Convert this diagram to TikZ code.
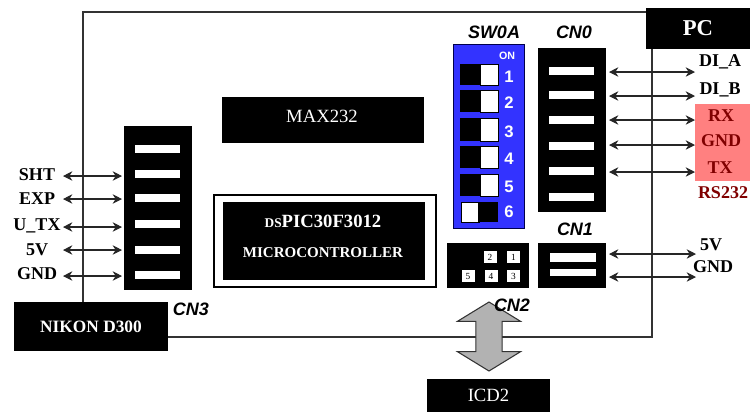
\documentclass[tikz,border=0pt]{standalone}
\usepackage{fontspec}
\setmainfont{Liberation Serif}
\setsansfont{Liberation Sans}
\usetikzlibrary{shapes.arrows, arrows.meta}
\definecolor{swblue}{RGB}{51,51,255}

\begin{document}
\begin{tikzpicture}[
            x=0.75pt, y=-0.75pt,
            size/.style n args={2}{minimum width=#1*0.75pt, minimum height=#2*0.75pt, inner sep=0pt, outer sep=0pt},
            block/.style={fill=black, text=white, align=center},
            slot/.style={fill=white, size={45}{8}},
            pad/.style={fill=white, text=black, size={13}{12}, font=\fontsize{7}{8}\selectfont},
            caption/.style={font=\fontsize{13.5}{15}\selectfont\sffamily\bfseries\itshape},
            pin/.style={font=\fontsize{13.5}{15}\selectfont\bfseries},
            swnum/.style={text=white, font=\fontsize{12.5}{14}\selectfont\sffamily\bfseries},
            link/.style={{Stealth[length=7pt,width=7pt]}-{Stealth[length=7pt,width=7pt]}, black!85, line width=0.8pt}
        ]
        \useasboundingbox (0,0) rectangle (750,412);

        % Board outline
        \node[draw=black!80, line width=0.8pt, size={569}{325}] (board) at (367.5,174.5) {};

        % Outside blocks
        \node[block, size={104}{41}, font=\fontsize{17}{19}\selectfont\bfseries] (pc) at (698,28.5) {PC};
        \node[block, size={154}{49}, font=\fontsize{13}{15}\selectfont\bfseries] (nikon) at (91,326.5) {NIKON D300};
        \node[block, size={123}{33}, font=\fontsize{14}{16}\selectfont] (icd) at (488.5,395.5) {ICD2};

        % MAX232 and microcontroller
        \node[block, size={202}{46}] (max) at (323,120) {};
        \node[text=white, inner sep=0pt, font=\fontsize{14}{16}\selectfont] (maxname) at (322,116) {MAX232};
        \node[draw=black, line width=1.8pt, size={222}{92}] (mcuframe) at (325,241) {};
        \node[block, size={202}{78}] (mcu) at (324,241) {};
        \node[text=white, inner sep=0pt, font=\fontsize{14}{16}\selectfont\bfseries] (mcuname) at (323,221) {{\fontsize{10}{12}\selectfont DS}PIC30F3012};
        \node[text=white, inner sep=0pt, font=\fontsize{11.25}{13}\selectfont\bfseries] (mcutype) at (323,253) {MICROCONTROLLER};

        % DIP switch
        \node[fill=swblue, draw=black!70!blue, line width=0.6pt, size={71}{184}] (sw) at (488.5,136) {};
        \node[caption] (swname) at (494,32) {SW0A};
        \node[text=white, inner sep=0pt, font=\fontsize{8}{9}\selectfont\sffamily\bfseries] (swon) at (507,56) {ON};
        \foreach \i/\y/\h in {1/74.5/21, 2/101/22, 3/129.5/23, 4/157/22, 5/185/22}
            {
            \node[fill=white, draw=black, line width=0.6pt, size={18}{\h}] (swR\i) at (489,\y) {};
            \node[fill=black, size={20}{\h}] (swL\i) at (470,\y) {};
            \node[swnum] (swN\i) at (509,\y+2) {\i};
            }
        \node[fill=white, draw=black, line width=0.6pt, size={18}{20}] (swL6) at (470,212) {};
        \node[fill=black, size={20}{20}] (swR6) at (488,212) {};
        \node[swnum] (swN6) at (509,212) {6};

        % CN0
        \node[block, size={68}{164}] (cn0) at (572,130) {};
        \node[caption] (cn0name) at (574,32) {CN0};
        \foreach \i/\y in {1/71, 2/95, 3/120, 4/146, 5/171, 6/197}
            \node[slot] (cn0s\i) at (571,\y) {};

        % CN1
        \node[block, size={68}{45}] (cn1) at (572,265.5) {};
        \node[caption] (cn1name) at (575,229) {CN1};
        \node[fill=white, size={46}{9}] (cn1s1) at (573,257) {};
        \node[fill=white, size={46}{7}] (cn1s2) at (573,272.5) {};

        % CN2
        \node[block, size={82}{45}] (cn2) at (488,265.5) {};
        \foreach \n/\x/\y in {1/513.5/257, 2/490/257, 3/513.5/276, 4/491/276, 5/468/276}
            \node[pad] (cn2p\n) at (\x,\y) {\n};

        % CN3
        \node[block, size={68}{164}] (cn3) at (158,208) {};
        \node[caption] (cn3name) at (191,309) {CN3};
        \foreach \i/\y in {1/149, 2/174, 3/198, 4/224, 5/250, 6/275}
            \node[slot] (cn3s\i) at (157,\y) {};

        % ICD2 arrow
        \node[double arrow, draw=black!80, line width=0.8pt, fill=black!30, rotate=90,
              minimum height=69*0.75pt, inner xsep=0pt, inner ysep=9.4pt, outer sep=0pt,
              double arrow head extend=18.5*0.75pt, double arrow head indent=0pt,
              double arrow tip angle=117] (icdarrow) at (489,336.5) {};
        \node[caption] (cn2name) at (512,305) {CN2};

        % RS232 patch
        \node[fill=red!50, size={55}{77}] (rspatch) at (722.5,142.5) {};

        % Right hand labels and connections
        \foreach \i/\lbl/\x/\y/\yy/\col in {1/DI\_A/720/62/72/black, 2/DI\_B/720/90/96/black, 3/RX/721/116/120/red!50!black, 4/GND/721/141/145/red!50!black, 5/TX/720/168/172/red!50!black}
            {
            \node[pin, text=\col, inner sep=0pt] (R\i) at (\x,\y) {\lbl};
            \coordinate (cn0p\i) at (609,\yy);
            \coordinate (Rp\i) at (695,\yy);
            \draw[link] (cn0p\i) -- (Rp\i);
            }
        \node[pin, text=red!50!black, inner sep=0pt] (rsname) at (723,193) {RS232};
        \foreach \i/\lbl/\x/\y/\yy in {1/5V/711/245/254, 2/GND/713/267/277}
            {
            \node[pin, inner sep=0pt] (S\i) at (\x,\y) {\lbl};
            \coordinate (cn1p\i) at (609,\yy);
            \coordinate (Sp\i) at (696,\yy);
            \draw[link] (cn1p\i) -- (Sp\i);
            }

        % Left hand labels and connections
        \foreach \i/\lbl/\y/\yy in {1/SHT/175/176, 2/EXP/199/199, 3/U\_TX/226/227, 4/5V/250/250, 5/GND/274/276}
            {
            \node[pin, inner sep=0pt] (L\i) at (37,\y) {\lbl};
            \coordinate (Lp\i) at (63,\yy);
            \coordinate (cn3p\i) at (122,\yy);
            \draw[link] (Lp\i) -- (cn3p\i);
            }
\end{tikzpicture}
\end{document}
